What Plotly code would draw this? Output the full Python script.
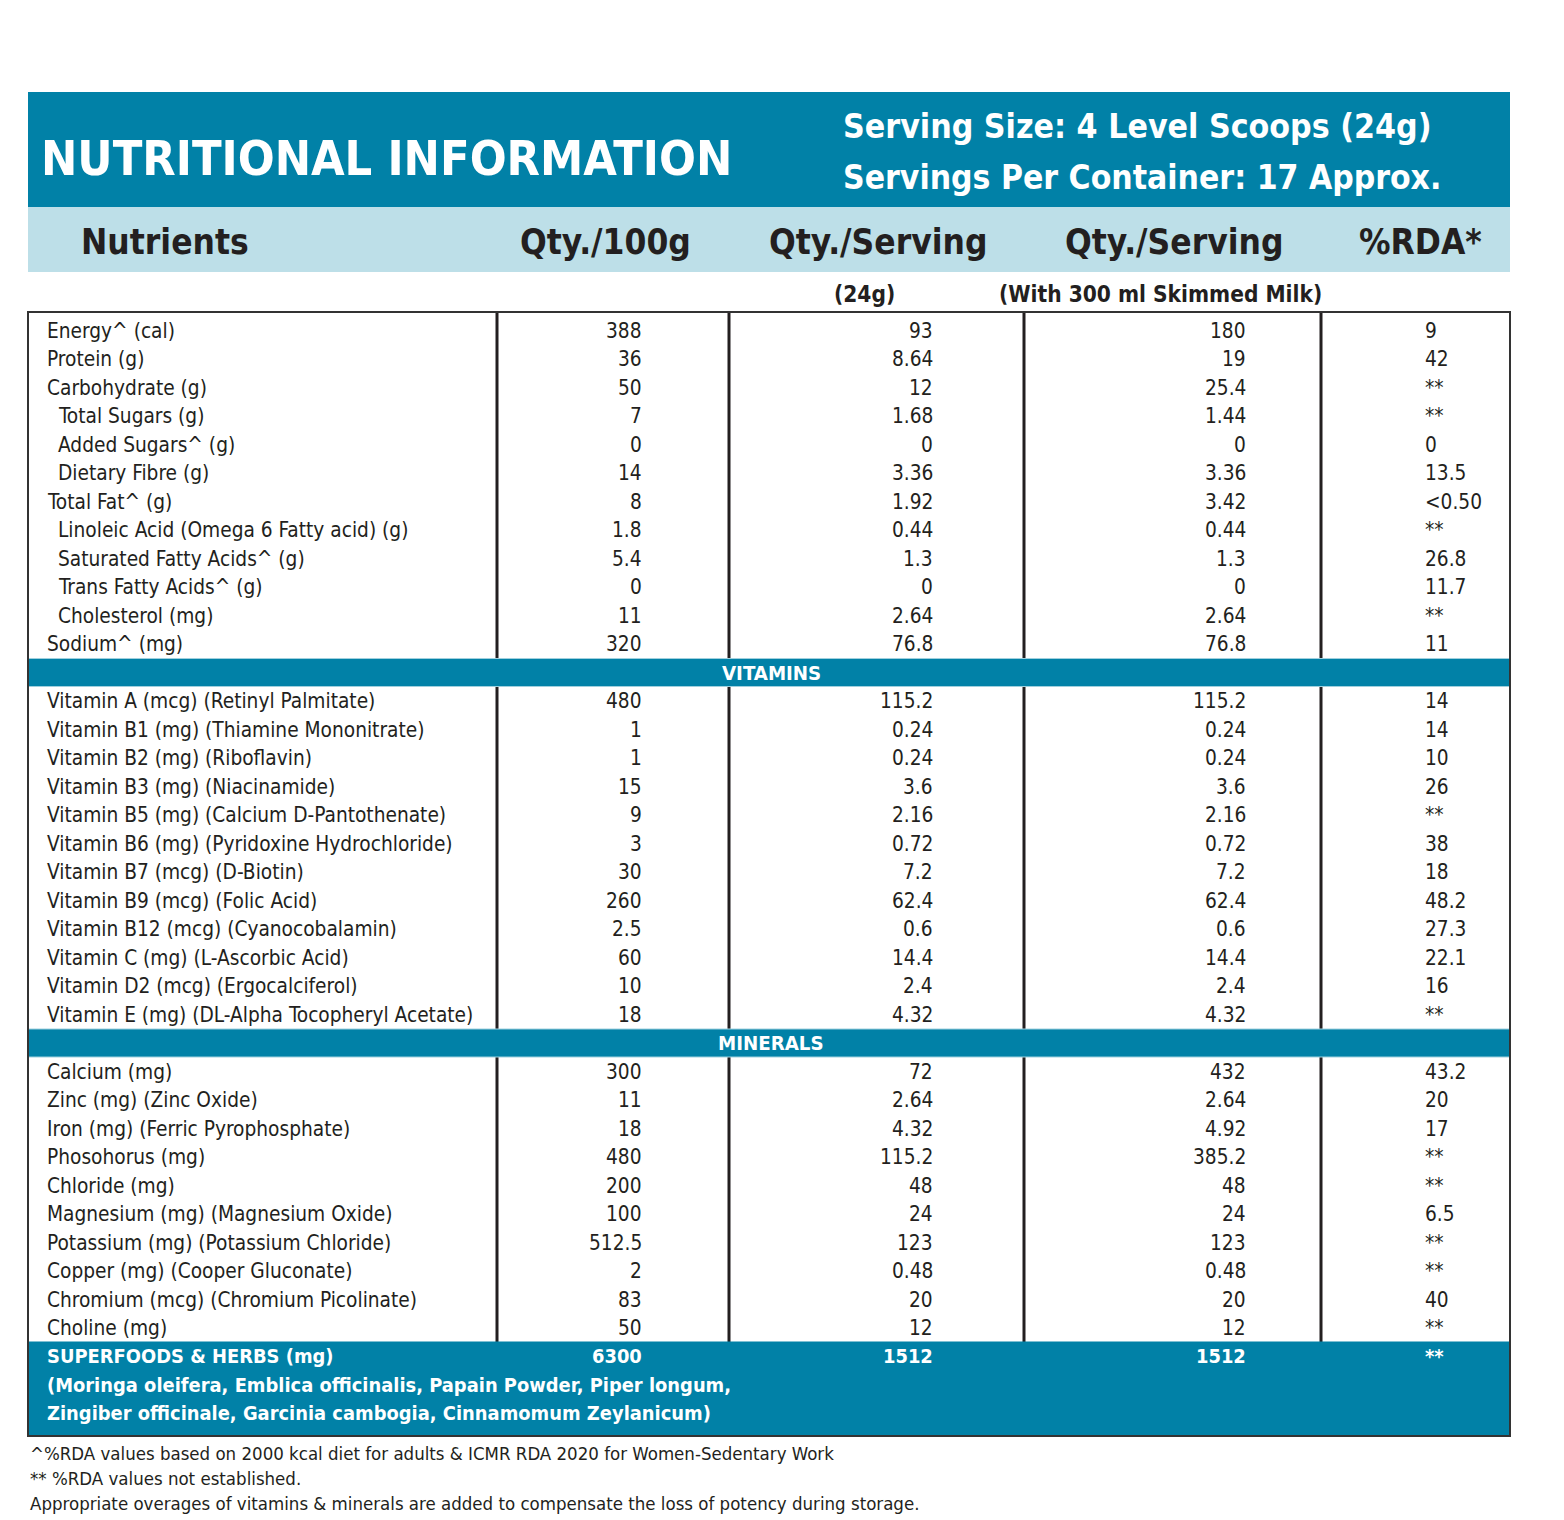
import plotly.graph_objects as go

# ---------------- data ----------------
title_text = "NUTRITIONAL INFORMATION"
serving_lines = ["Serving Size: 4 Level Scoops (24g)", "Servings Per Container: 17 Approx."]
col_headers = ["Nutrients", "Qty./100g", "Qty./Serving", "Qty./Serving", "%RDA*"]
sub_headers = ["(24g)", "(With 300 ml Skimmed Milk)"]

general_names = ["Energy^ (cal)", "Protein (g)", "Carbohydrate (g)", "Total Sugars (g)",
                 "Added Sugars^ (g)", "Dietary Fibre (g)", "Total Fat^ (g)",
                 "Linoleic Acid (Omega 6 Fatty acid) (g)", "Saturated Fatty Acids^ (g)",
                 "Trans Fatty Acids^ (g)", "Cholesterol (mg)", "Sodium^ (mg)"]
general_sub = [False, False, False, True, True, True, False, True, True, True, True, False]
general_100g = ["388", "36", "50", "7", "0", "14", "8", "1.8", "5.4", "0", "11", "320"]
general_serv = ["93", "8.64", "12", "1.68", "0", "3.36", "1.92", "0.44", "1.3", "0", "2.64", "76.8"]
general_milk = ["180", "19", "25.4", "1.44", "0", "3.36", "3.42", "0.44", "1.3", "0", "2.64", "76.8"]
general_rda = ["9", "42", "**", "**", "0", "13.5", "<0.50", "**", "26.8", "11.7", "**", "11"]

vitamin_names = ["Vitamin A (mcg) (Retinyl Palmitate)", "Vitamin B1 (mg) (Thiamine Mononitrate)",
                 "Vitamin B2 (mg) (Riboflavin)", "Vitamin B3 (mg) (Niacinamide)",
                 "Vitamin B5 (mg) (Calcium D-Pantothenate)", "Vitamin B6 (mg) (Pyridoxine Hydrochloride)",
                 "Vitamin B7 (mcg) (D-Biotin)", "Vitamin B9 (mcg) (Folic Acid)",
                 "Vitamin B12 (mcg) (Cyanocobalamin)", "Vitamin C (mg) (L-Ascorbic Acid)",
                 "Vitamin D2 (mcg) (Ergocalciferol)", "Vitamin E (mg) (DL-Alpha Tocopheryl Acetate)"]
vitamin_100g = ["480", "1", "1", "15", "9", "3", "30", "260", "2.5", "60", "10", "18"]
vitamin_serv = ["115.2", "0.24", "0.24", "3.6", "2.16", "0.72", "7.2", "62.4", "0.6", "14.4", "2.4", "4.32"]
vitamin_milk = ["115.2", "0.24", "0.24", "3.6", "2.16", "0.72", "7.2", "62.4", "0.6", "14.4", "2.4", "4.32"]
vitamin_rda = ["14", "14", "10", "26", "**", "38", "18", "48.2", "27.3", "22.1", "16", "**"]

mineral_names = ["Calcium (mg)", "Zinc (mg) (Zinc Oxide)", "Iron (mg) (Ferric Pyrophosphate)",
                 "Phosohorus (mg)", "Chloride (mg)", "Magnesium (mg) (Magnesium Oxide)",
                 "Potassium (mg) (Potassium Chloride)", "Copper (mg) (Cooper Gluconate)",
                 "Chromium (mcg) (Chromium Picolinate)", "Choline (mg)"]
mineral_100g = ["300", "11", "18", "480", "200", "100", "512.5", "2", "83", "50"]
mineral_serv = ["72", "2.64", "4.32", "115.2", "48", "24", "123", "0.48", "20", "12"]
mineral_milk = ["432", "2.64", "4.92", "385.2", "48", "24", "123", "0.48", "20", "12"]
mineral_rda = ["43.2", "20", "17", "**", "**", "6.5", "**", "**", "40", "**"]

section_labels = ["VITAMINS", "MINERALS"]
superfood_label = "SUPERFOODS & HERBS (mg)"
superfood_values = ["6300", "1512", "1512", "**"]
superfood_lines = ["(Moringa oleifera, Emblica officinalis, Papain Powder, Piper longum,",
                   "Zingiber officinale, Garcinia cambogia, Cinnamomum Zeylanicum)"]
footnotes = ["^%RDA values based on 2000 kcal diet for adults & ICMR RDA 2020 for Women-Sedentary Work",
             "** %RDA values not established.",
             "Appropriate overages of vitamins & minerals are added to compensate the loss of potency during storage."]

# ---------------- style / layout ----------------
W, H = 1564, 1520
OFF = 8  # page margin of the browser
TEAL = "#0181a7"
LIGHT = "#bddfe8"
DARK = "#231f20"
FONT = "DejaVu Sans Condensed, Liberation Sans Narrow, Arial Narrow, sans-serif"

L, R = 28, 1510
TABLE_TOP = 312
ROW0 = 330.5
PITCH = 28.5
NAME_X = 45
SUB_X = 56
COL_RIGHT = [644, 935, 1248]
RDA_X = 1423
DIVIDERS = [497, 729, 1024, 1321]


def row_y(k):
    return ROW0 + PITCH * k


fig = go.Figure()
shapes = []
ann = []


def text(x, y, s, size, color=DARK, bold=False, xanchor="left"):
    ann.append(dict(x=x, y=y, xref="x", yref="y", text=s, showarrow=False,
                    xanchor=xanchor, yanchor="middle",
                    font=dict(family=FONT, size=size, color=color,
                              weight="bold" if bold else "normal")))


# top banner
shapes.append(dict(type="rect", x0=L, x1=R, y0=92, y1=207, fillcolor=TEAL, line=dict(width=0), layer="below"))
shapes.append(dict(type="rect", x0=L, x1=R, y0=207, y1=272, fillcolor=LIGHT, line=dict(width=0), layer="below"))
text(39, 158, title_text, 48.3, "white", True)
text(841, 126, serving_lines[0], 33.6, "white", True)
text(841, 177, serving_lines[1], 33.4, "white", True)

header_cx = [165, 605, 878, 1174, 1420]
for cx, h in zip(header_cx, col_headers):
    text(cx, 242, h, 35, DARK, True, "center")
text(864, 294, sub_headers[0], 22.5, DARK, True, "center")
text(1160, 294, sub_headers[1], 22.5, DARK, True, "center")

# table dividers
for dx in DIVIDERS:
    shapes.append(dict(type="line", x0=dx, x1=dx, y0=TABLE_TOP, y1=row_y(35) + PITCH / 2,
                       line=dict(color=DARK, width=3)))

# rows
BODY = 20.7


def add_rows(start, names, v1, v2, v3, v4, subs=None):
    for i, name in enumerate(names):
        y = row_y(start + i)
        x = SUB_X if (subs and subs[i]) else NAME_X
        text(x, y, name, BODY)
        for cx, v in zip(COL_RIGHT, (v1[i], v2[i], v3[i])):
            text(cx, y, v, BODY, xanchor="right")
        text(RDA_X, y, v4[i], BODY)


add_rows(0, general_names, general_100g, general_serv, general_milk, general_rda, general_sub)
add_rows(13, vitamin_names, vitamin_100g, vitamin_serv, vitamin_milk, vitamin_rda)
add_rows(26, mineral_names, mineral_100g, mineral_serv, mineral_milk, mineral_rda)

# section bands
for k, lab in zip([12, 25], section_labels):
    y = row_y(k)
    shapes.append(dict(type="rect", x0=L, x1=R, y0=y - 14, y1=y + 14, fillcolor=TEAL,
                       line=dict(color="#9fd0de", width=1)))
    text(771, y, lab, 20.3, "white", True, "center")

# superfoods band
sy = row_y(36)
shapes.append(dict(type="rect", x0=L, x1=R, y0=sy - 15, y1=1436, fillcolor=TEAL,
                   line=dict(width=0)))
SF = 19.9
text(NAME_X, sy, superfood_label, SF, "white", True)
for cx, v in zip(COL_RIGHT, superfood_values[:3]):
    text(cx, sy, v, SF, "white", True, "right")
text(RDA_X, sy, superfood_values[3], SF, "white", True)
for j, line in enumerate(superfood_lines):
    text(NAME_X, row_y(37 + j), line, SF, "white", True)

# outer box
shapes.append(dict(type="rect", x0=L, x1=R, y0=TABLE_TOP, y1=1436, line=dict(color="#333333", width=2),
                   fillcolor="rgba(0,0,0,0)"))

for j, f in enumerate(footnotes):
    text(28, 1453 + 25 * j, f, 18.5)

fig.update_layout(
    width=W, height=H, margin=dict(l=0, r=0, t=0, b=0),
    paper_bgcolor="white", plot_bgcolor="white",
    xaxis=dict(range=[OFF, W + OFF], visible=False, fixedrange=True),
    yaxis=dict(range=[H + OFF, OFF], visible=False, fixedrange=True),
    shapes=shapes, annotations=ann, showlegend=False,
)
fig.write_html("out.html")
